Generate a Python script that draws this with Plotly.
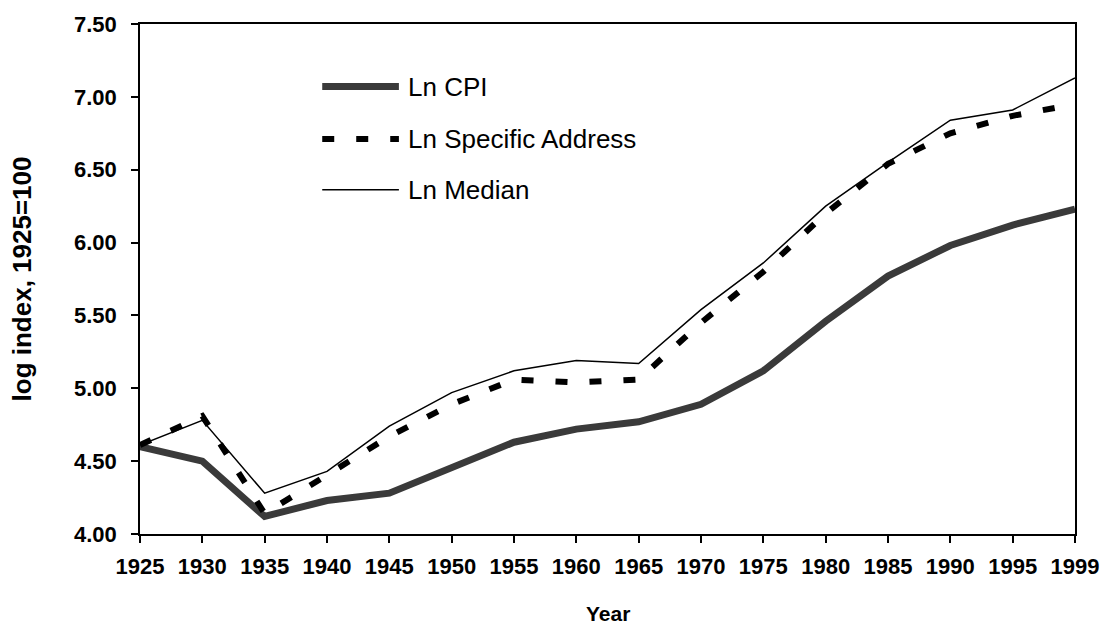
import plotly.graph_objects as go

years = ["1925", "1930", "1935", "1940", "1945", "1950", "1955", "1960",
         "1965", "1970", "1975", "1980", "1985", "1990", "1995", "1999"]
ln_cpi = [4.60, 4.50, 4.12, 4.23, 4.28, 4.46, 4.63, 4.72,
          4.77, 4.89, 5.12, 5.46, 5.77, 5.98, 6.12, 6.23]
ln_specific = [4.61, 4.81, 4.14, 4.40, 4.67, 4.89, 5.06, 5.04,
               5.06, 5.45, 5.80, 6.20, 6.54, 6.75, 6.87, 6.95]
ln_median = [4.61, 4.78, 4.28, 4.43, 4.74, 4.97, 5.12, 5.19,
             5.17, 5.54, 5.86, 6.25, 6.55, 6.84, 6.91, 7.13]
series_names = ["Ln CPI", "Ln Specific Address", "Ln Median"]
y_ticks = [4.0, 4.5, 5.0, 5.5, 6.0, 6.5, 7.0, 7.5]

FONT = "Liberation Sans, Arial, sans-serif"
styles = [
    dict(color="#3a3a3a", width=7, dash="solid"),
    dict(color="#000000", width=6, dash="12px,22px"),
    dict(color="#000000", width=1.5, dash="solid"),
]

fig = go.Figure()
for name, vals, st in zip(series_names, [ln_cpi, ln_specific, ln_median], styles):
    fig.add_trace(go.Scatter(x=years, y=vals, mode="lines", name=name,
                             line=st, showlegend=False, hoverinfo="skip"))

# manual legend (line samples + labels)
leg_x0, leg_x1, txt_x = 0.1949, 0.2769, 0.2843
leg_rows = [0.8774, 0.7743, 0.6751]
for name, st, yy in zip(series_names, styles, leg_rows):
    fig.add_shape(type="line", xref="paper", yref="paper",
                  x0=leg_x0, x1=leg_x1, y0=yy, y1=yy,
                  line=dict(color=st["color"], width=st["width"], dash=st["dash"]))
    fig.add_annotation(xref="paper", yref="paper", x=txt_x, y=yy,
                       xanchor="left", yanchor="middle", showarrow=False,
                       text=name, font=dict(family=FONT, size=26, color="#000"))

fig.add_annotation(xref="paper", yref="paper", x=-0.1257, y=0.5,
                   xanchor="center", yanchor="middle", showarrow=False,
                   textangle=-90, text="log index, 1925=100",
                   font=dict(family=FONT, size=26, color="#000", weight="bold"))
fig.add_annotation(xref="paper", yref="paper", x=0.5, y=-0.1556,
                   xanchor="center", yanchor="middle", showarrow=False,
                   text="Year",
                   font=dict(family=FONT, size=21, color="#000", weight="bold"))

fig.update_layout(
    width=1111, height=631,
    margin=dict(l=140, r=32, t=20, b=97),
    paper_bgcolor="white", plot_bgcolor="white",
    font=dict(family=FONT, color="#000"),
)
fig.update_xaxes(type="category", range=[0, len(years) - 1],
                 showline=True, linecolor="black", linewidth=1.5, mirror=True,
                 ticks="outside", ticklen=7, tickwidth=1.5, tickcolor="black",
                 showgrid=False, zeroline=False, ticklabelstandoff=5,
                 tickfont=dict(family=FONT, size=22, color="#000", weight="bold"))
fig.update_yaxes(range=[4.0, 7.5], tickvals=y_ticks, tickformat=".2f",
                 showline=True, linecolor="black", linewidth=1.5, mirror=True,
                 ticks="outside", ticklen=7, tickwidth=1.5, tickcolor="black",
                 showgrid=False, zeroline=False, ticklabelstandoff=10,
                 tickfont=dict(family=FONT, size=22, color="#000", weight="bold"))

fig.write_html("out.html", config={"displayModeBar": False},
               post_script="document.body.style.margin='0';"
                           "document.body.style.overflow='hidden';")
